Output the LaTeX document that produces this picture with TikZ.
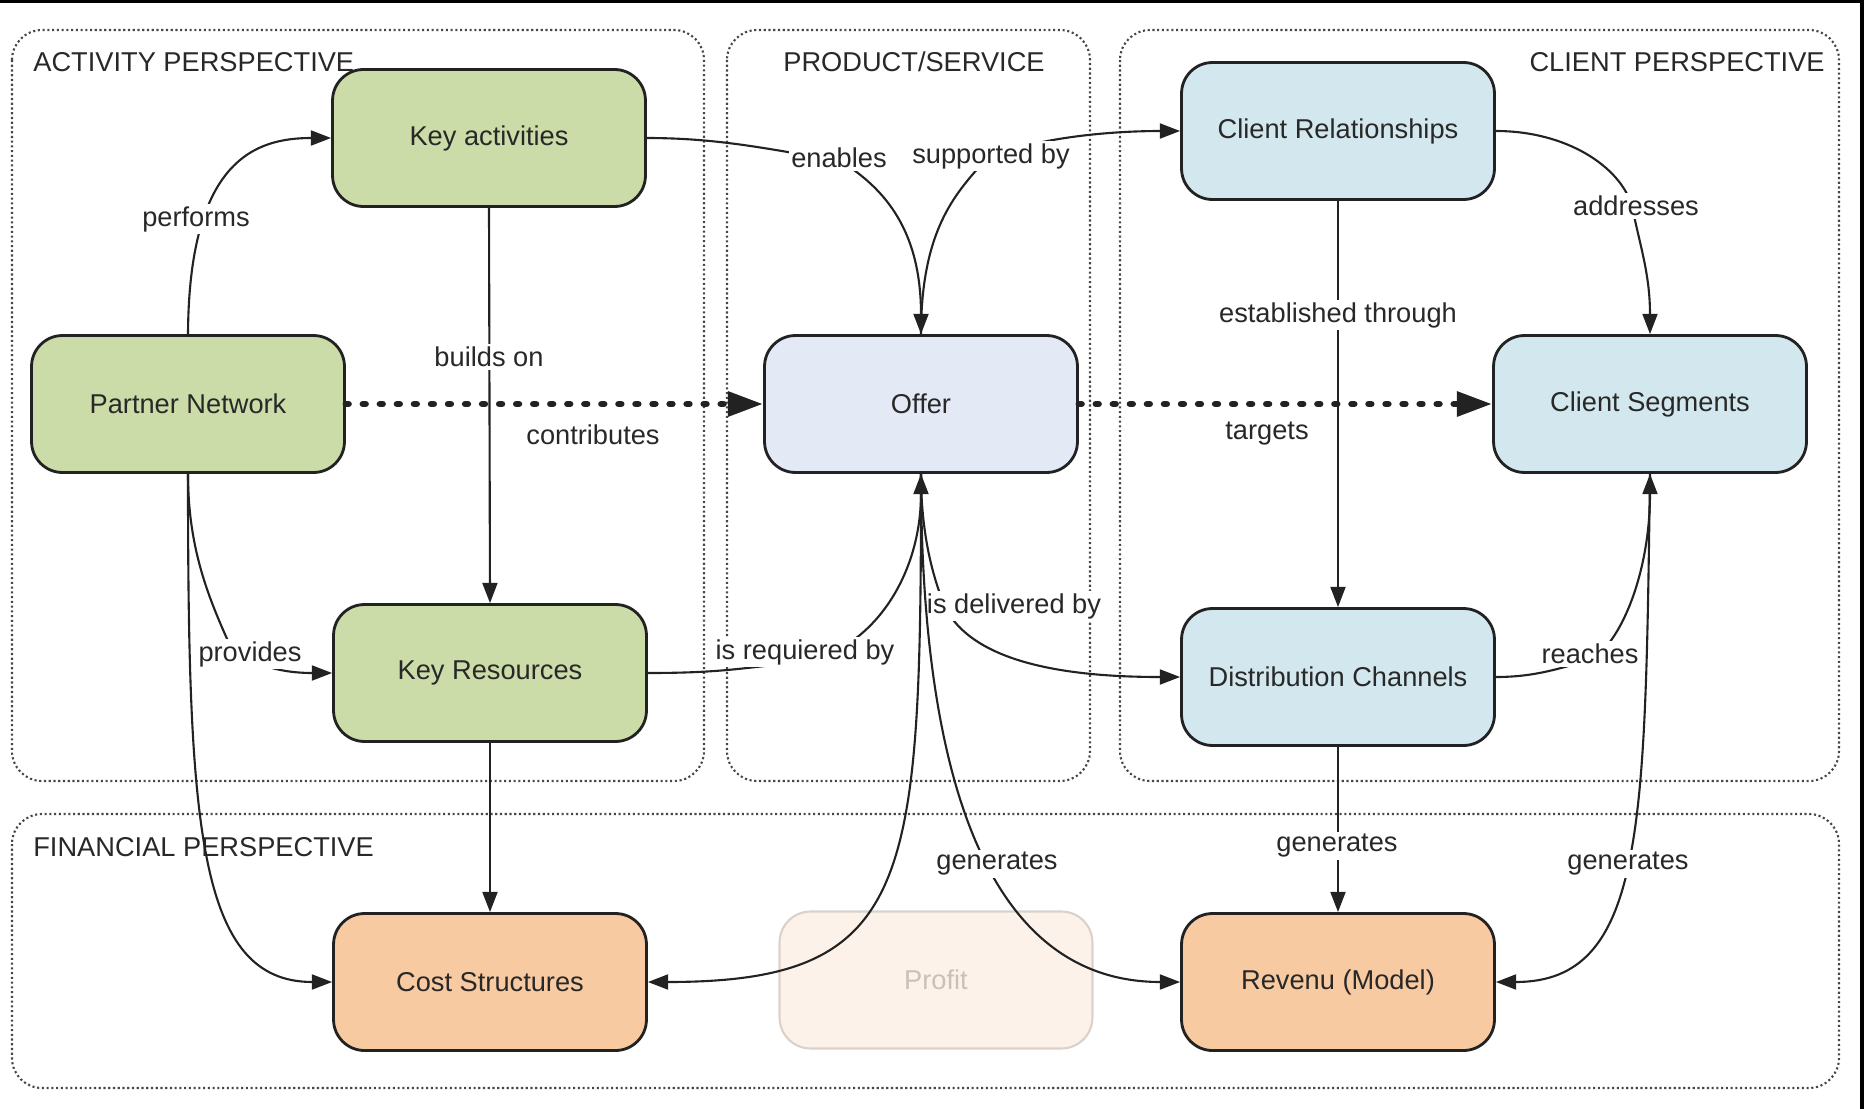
\documentclass[tikz,border=0pt]{standalone}
\usepackage{fontspec}
\setmainfont{Liberation Sans}
\usetikzlibrary{arrows.meta}

\definecolor{actfill}{RGB}{203,220,168}
\definecolor{offerfill}{RGB}{227,233,245}
\definecolor{clientfill}{RGB}{210,232,238}
\definecolor{finfill}{RGB}{248,202,161}
\definecolor{profitfill}{RGB}{253,242,233}
\definecolor{profitline}{RGB}{217,209,202}
\definecolor{profittext}{RGB}{200,192,185}
\definecolor{edgeline}{RGB}{34,34,34}
\definecolor{labeltext}{RGB}{40,40,40}
\definecolor{groupline}{RGB}{70,70,70}

\tikzset{
  every node/.style={font=\fontsize{15.5pt}{18pt}\selectfont},
  nodebox/.style={draw=edgeline, line width=1.6pt, rounded corners=0.62cm,
    minimum width=6.26cm, minimum height=2.74cm, align=center,
    text=labeltext, inner sep=0pt},
  actbox/.style={nodebox, fill=actfill},
  offerbox/.style={nodebox, fill=offerfill},
  clientbox/.style={nodebox, fill=clientfill},
  finbox/.style={nodebox, fill=finfill},
  profitbox/.style={nodebox, fill=profitfill, draw=profitline, line width=1.2pt, text=profittext},
  grp/.style={draw=groupline, line width=1.2pt, dash pattern=on 1.2pt off 1.5pt, rounded corners=0.6cm},
  grptitle/.style={text=labeltext, inner sep=0pt},
  conn/.style={draw=edgeline, line width=1.2pt, -{Triangle[length=11.5pt,width=8.5pt]}},
  dotconn/.style={draw=edgeline, line width=3.8pt, line cap=round,
    dash pattern=on 1.5pt off 8.2pt, -{Triangle[length=20pt,width=13.5pt]}},
  lbl/.style={fill=white, text=labeltext, inner sep=1.5pt},
}

\begin{document}
\begin{tikzpicture}[x=0.02cm, y=-0.02cm]
\useasboundingbox (0,0) rectangle (1864,1109);

% frame strips
\fill[black] (0,0) rectangle (1864,3);
\fill[black] (1860,0) rectangle (1864,1109);

% perspective groups
\draw[grp] (12,30) rectangle (704,781);
\draw[grp] (727,30) rectangle (1090,781);
\draw[grp] (1120,30) rectangle (1839,781);
\draw[grp] (12,814) rectangle (1839,1088);

\node[grptitle, anchor=base west] (t-act) at (33,71) {ACTIVITY PERSPECTIVE};
\node[grptitle, anchor=base] (t-prod) at (914,71) {PRODUCT/SERVICE};
\node[grptitle, anchor=base east] (t-client) at (1825,71) {CLIENT PERSPECTIVE};
\node[grptitle, anchor=base west] (t-fin) at (33,856) {FINANCIAL PERSPECTIVE};

% building blocks
\node[actbox] (ka) at (489,138) {Key activities};
\node[actbox] (pn) at (188,404) {Partner Network};
\node[actbox] (kr) at (490,673) {Key Resources};
\node[offerbox] (offer) at (921,404) {Offer};
\node[clientbox] (cr) at (1338,131) {Client Relationships};
\node[clientbox] (cs) at (1650,404) {Client Segments};
\node[clientbox] (dc) at (1338,677) {Distribution Channels};
\node[finbox] (cost) at (490,982) {Cost Structures};
\node[profitbox] (profit) at (936,980) {Profit};
\node[finbox] (rev) at (1338,982) {Revenu (Model)};

% points where curved connectors pass under their labels
\coordinate (en) at (839,160);
\coordinate (sp) at (985,160);
\coordinate (ad) at (1632,206);
\coordinate (rq) at (805,662);
\coordinate (dl) at (945,607);
\coordinate (rc) at (1590,660);
\coordinate (pv) at (232,650);

% straight connectors
\draw[conn] (ka.south) -- (kr.north);
\draw[conn] (kr.south) -- (cost.north);
\draw[conn] (cr.south) -- (dc.north);
\draw[conn] (dc.south) -- (rev.north);
\draw[dotconn] (pn.east) -- (offer.west);
\draw[dotconn] (offer.east) -- (cs.west);

% curved connectors
\draw[conn] (pn.north) .. controls +(1,-175) and +(-75,0) .. (ka.west);
\draw[conn] (pn.south) .. controls +(0,80) and +(-20,-45) .. (pv)
  .. controls +(30,20) and +(-40,0) .. (kr.west);
\draw[conn] (pn.south) .. controls +(0,350) and +(-135,0) .. (cost.west);
\draw[conn] (ka.east) .. controls +(80,0) and +(-60,-8) .. (en)
  .. controls +(40,25) and +(0,-110) .. (offer.north);
\draw[conn] (offer.north) .. controls +(0,-110) and +(-25,30) .. (sp)
  .. controls +(40,-20) and +(-80,0) .. (cr.west);
\draw[conn] (cr.east) .. controls +(70,0) and +(-12,-40) .. (ad)
  .. controls +(8,40) and +(0,-60) .. (cs.north);
\draw[conn] (kr.east) .. controls +(80,0) and +(-60,5) .. (rq)
  .. controls +(70,-15) and +(0,100) .. (offer.south);
\draw[conn] (offer.south) .. controls +(0,70) and +(-8,-20) .. (dl)
  .. controls +(30,60) and +(-100,0) .. (dc.west);
\draw[conn] (dc.east) .. controls +(40,0) and +(-30,8) .. (rc)
  .. controls +(30,-15) and +(0,100) .. (cs.south);
\draw[conn] (cs.south) .. controls +(-5,350) and +(150,0) .. (rev.east);

\node[lbl] (l-deliv) at (1014,606) {is delivered by};

\draw[conn] (offer.south) .. controls +(0,410) and +(265,0) .. (cost.east);
\draw[conn] (offer.south) .. controls +(0,228) and +(-222,0) .. (rev.west);

% connector labels
\node[lbl] (l-perf) at (196,219) {performs};
\node[lbl] (l-build) at (489,357) {builds on};
\node[lbl] (l-contrib) at (593,435) {contributes};
\node[lbl] (l-prov) at (250,654) {provides};
\node[lbl] (l-enab) at (839,158) {enables};
\node[lbl] (l-supp) at (991,156) {supported by};
\node[lbl] (l-addr) at (1636,206) {addresses};
\node[lbl] (l-estab) at (1338,315) {established through};
\node[lbl] (l-targ) at (1267,434) {targets};
\node[lbl] (l-req) at (805,652) {is requiered by};
\node[lbl] (l-reach) at (1590,654) {reaches};
\node[lbl] (l-genO) at (997,864) {generates};
\node[lbl] (l-genD) at (1337,846) {generates};
\node[lbl] (l-genC) at (1628,864) {generates};
\end{tikzpicture}
\end{document}
